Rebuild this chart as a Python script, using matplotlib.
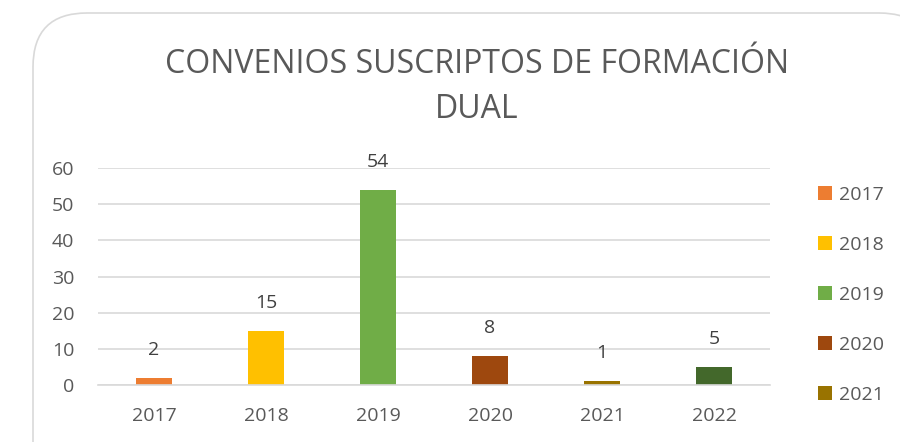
import matplotlib.pyplot as plt
from matplotlib.patches import FancyBboxPatch, Patch

# --- data ---
years = ["2017", "2018", "2019", "2020", "2021", "2022"]
convenios = [2, 15, 54, 8, 1, 5]
colors = ["#ED7D31", "#FFC000", "#70AD47", "#9E480E", "#997300", "#43682B"]
# the screenshot only shows the first five legend entries
legend_years = years[:5]

plt.rcParams["font.family"] = ["Open Sans", "DejaVu Sans"]
text_color = "#595959"

fig = plt.figure(figsize=(9, 4.42), dpi=100)

# rounded chart frame (cut off at right and bottom like the screenshot)
frame = FancyBboxPatch((33 / 900, -0.2), 1.0, 1.2 - 13 / 442,
                       boxstyle="round,pad=0,rounding_size=0.06",
                       transform=fig.transFigure, facecolor="white",
                       edgecolor="#d9d9d9", linewidth=1.2,
                       mutation_aspect=900 / 442, zorder=-1)
fig.patches.append(frame)

ax = fig.add_axes([98 / 900, 1 - 385 / 442, 672 / 900, 217 / 442])
x = range(len(years))
bars = ax.bar(x, convenios, width=0.32, color=colors)

for rect, v in zip(bars, convenios):
    ax.annotate(str(v), (rect.get_x() + rect.get_width() / 2, v),
                xytext=(0, 28), textcoords="offset pixels",
                ha="center", va="center", fontsize=14, color="#404040")

ax.set_xlim(-0.5, len(years) - 0.5)
ax.set_ylim(0, 60)
ax.set_yticks(range(0, 61, 10))
ax.set_xticks(list(x))
ax.set_xticklabels(years)
ax.grid(axis="y", color="#d9d9d9", linewidth=1.2)
ax.set_axisbelow(True)
for s in ["top", "right", "left"]:
    ax.spines[s].set_visible(False)
ax.spines["bottom"].set_color("#d9d9d9")
ax.spines["bottom"].set_linewidth(1.2)
ax.tick_params(axis="both", length=0, labelsize=14, labelcolor=text_color)
ax.tick_params(axis="y", pad=17)
ax.tick_params(axis="x", pad=16)
ax.set_facecolor("none")

fig.text(477 / 900, 1 - 87 / 442, "CONVENIOS SUSCRIPTOS DE FORMACIÓN\nDUAL",
         ha="center", va="center", fontsize=23, color=text_color,
         linespacing=1.45)

handles = [Patch(facecolor=c, label=y) for y, c in zip(legend_years, colors)]
fig.legend(handles=handles, loc="upper left",
           bbox_to_anchor=(810 / 900, 1 - 178 / 442), frameon=False,
           fontsize=14, labelcolor=text_color, handlelength=0.75,
           handleheight=0.75, handletextpad=0.35, labelspacing=1.65,
           borderaxespad=0)

fig.savefig("out.png", dpi=100)
